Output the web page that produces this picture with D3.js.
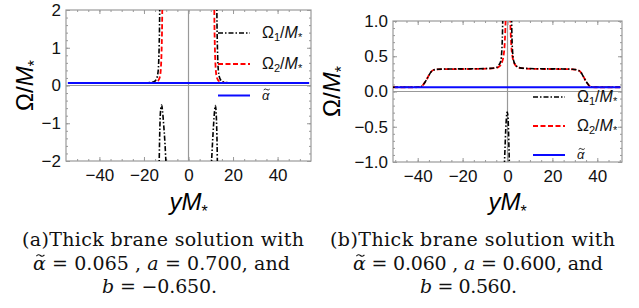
<!DOCTYPE html>
<html>
<head>
<meta charset="utf-8">
<script src="https://cdn.jsdelivr.net/npm/d3@7"></script>
<style>
  body { margin: 0; background: #fff; }
  svg { display: block; }
  .tick text { font-family: "Liberation Sans", Arial, sans-serif; font-size: 17px; fill: #111; }
</style>
</head>
<body>
<svg id="chart" width="639" height="308"></svg>
<script>
// ---- data, panel (a) ----
const alphaA = 0.065;
const omega1A_outerL = [[-54,0.065],[-30,0.066],[-20,0.07],[-17,0.08],[-15.5,0.1],[-14.5,0.16],[-13.8,0.3],[-13.4,0.6],[-13.15,1.1],[-13.0,1.6],[-12.9,2.2]];
const omega1A_outerR = [[12.7,2.2],[12.8,1.6],[12.95,1.1],[13.2,0.6],[13.6,0.3],[14.3,0.16],[15.3,0.1],[17,0.08],[20,0.07],[30,0.066],[54,0.065]];
const omega1A_negL = [[-13.2,-2.2],[-13.0,-1.5],[-12.75,-0.9],[-12.45,-0.62],[-12.05,-0.52],[-11.7,-0.65],[-11.2,-1.0],[-10.6,-1.5],[-10.0,-2.2]];
const omega1A_negR = [[10.2,-2.2],[10.8,-1.5],[11.3,-1.0],[11.7,-0.68],[12.05,-0.53],[12.4,-0.7],[12.65,-1.1],[12.85,-1.6],[13.0,-2.2]];
const omega2A_L = [[-54,0.065],[-30,0.066],[-20,0.068],[-16,0.075],[-14,0.11],[-13,0.2],[-12.5,0.38],[-12.2,0.7],[-12.0,1.1],[-11.85,1.6],[-11.75,2.2]];
const omega2A_R = [[11.55,2.2],[11.65,1.6],[11.8,1.1],[12.0,0.7],[12.3,0.38],[12.8,0.2],[13.8,0.11],[15.8,0.075],[20,0.068],[30,0.066],[54,0.065]];

// ---- data, panel (b) ----
const alphaB = 0.06;
const omega1B_L = [[-51,0.06],[-42,0.06],[-39,0.065],[-38,0.08],[-37,0.12],[-36,0.17],[-35,0.23],[-34,0.28],[-33,0.305],[-31,0.315],[-25,0.32],[-15,0.322],[-8,0.328],[-5,0.34],[-4,0.37],[-3,0.43],[-2.6,0.55],[-2.3,0.75],[-2.1,1.05]];
const omega1B_R = [[1.8,1.05],[2.0,0.75],[2.3,0.55],[2.8,0.43],[3.8,0.37],[5,0.34],[8,0.328],[15,0.322],[25,0.32],[29,0.315],[31,0.305],[32.5,0.28],[33.5,0.23],[34.5,0.17],[35.5,0.12],[36.5,0.08],[37.5,0.065],[40,0.06],[51,0.06]];
const omega1B_neg = [[-1.4,-1.05],[-1.1,-0.8],[-0.8,-0.55],[-0.5,-0.38],[-0.15,-0.29],[0.2,-0.35],[0.45,-0.55],[0.65,-0.8],[0.85,-1.05]];
const omega2B_L = [[-51,0.06],[-42,0.06],[-39,0.065],[-38,0.08],[-37,0.12],[-36,0.17],[-35,0.23],[-34,0.28],[-33,0.305],[-31,0.315],[-25,0.318],[-15,0.32],[-8,0.325],[-5,0.335],[-3.5,0.36],[-2.5,0.41],[-1.8,0.5],[-1.3,0.65],[-1.0,0.85],[-0.8,1.05]];
const omega2B_R = [[1.2,1.05],[1.4,0.85],[1.7,0.65],[2.2,0.5],[2.9,0.41],[3.9,0.36],[5.5,0.335],[8,0.325],[15,0.32],[25,0.318],[29,0.315],[31,0.305],[32.5,0.28],[33.5,0.23],[34.5,0.17],[35.5,0.12],[36.5,0.08],[37.5,0.065],[40,0.06],[51,0.06]];

// ---- ticks ----
const xTicks = [-40, -20, 0, 20, 40];
const xMinor = d3.range(-50, 51, 5);
const yTicksA = [-2, -1, 0, 1, 2];
const yMinorA = d3.range(-2, 2.01, 0.2);
const yTicksB = [-1, -0.5, 0, 0.5, 1];
const yMinorB = d3.range(-1, 1.01, 0.1);

// ---- captions (italic parts marked with *, alpha-tilde with ~) ----
const captionA = ["(a)Thick brane solution with", ["~α", " = 0.065 , ", "*a", " = 0.700, and"], ["*b", " = −0.650."]];
const captionB = ["(b)Thick brane solution with", ["~α", " = 0.060 , ", "*a", " = 0.600, and"], ["*b", " = 0.560."]];

const svg = d3.select("#chart");
const BLACK = "#000", RED = "#f00", BLUE = "#0a0aff";

// draw a tilde accent over the first character of a text element
function addTilde(textSel, w, lift, sw) {
  const r = textSel.node().getExtentOfChar(0);
  const base = +textSel.attr("y");
  const cx = r.x + r.width / 2 + 1, cy = base - lift;
  const h = w * 0.22;
  const pth = d3.path();
  pth.moveTo(cx - w / 2, cy + h * 0.3);
  pth.quadraticCurveTo(cx - w / 4, cy - h, cx, cy);
  pth.quadraticCurveTo(cx + w / 4, cy + h, cx + w / 2, cy - h * 0.3);
  svg.append("path").attr("d", pth.toString()).attr("fill", "none")
    .attr("stroke", "#111").attr("stroke-width", sw);
}

function drawPanel(p) {
  const x = d3.scaleLinear().domain(p.xDomain).range([p.left, p.right]);
  const y = d3.scaleLinear().domain(p.yDomain).range([p.bottom, p.top]);
  const g = svg.append("g");

  const clipId = "clip" + p.id;
  svg.append("clipPath").attr("id", clipId)
    .append("rect").attr("x", p.left).attr("y", p.top)
    .attr("width", p.right - p.left).attr("height", p.bottom - p.top);

  // axes lines at 0
  g.append("line").attr("x1", x(0)).attr("x2", x(0)).attr("y1", p.top).attr("y2", p.bottom)
    .attr("stroke", "#999").attr("stroke-width", 1.2);
  g.append("line").attr("x1", p.left).attr("x2", p.right).attr("y1", y(0)).attr("y2", y(0))
    .attr("stroke", "#999").attr("stroke-width", 1.2);

  // frame ticks (inward), minor then major
  const mk = [() => d3.axisBottom(x), () => d3.axisTop(x), () => d3.axisLeft(y), () => d3.axisRight(y)];
  const tr = [`translate(0,${p.bottom})`, `translate(0,${p.top})`, `translate(${p.left},0)`, `translate(${p.right},0)`];
  const major = [xTicks, xTicks, p.yTicks, p.yTicks];
  const minor = [xMinor, xMinor, p.yMinor, p.yMinor];
  const fmts = [d3.format("d"), null, p.yFormat, null];
  mk.forEach((make, i) => {
    g.append("g").attr("transform", tr[i])
      .call(make().tickValues(minor[i]).tickSize(-2).tickFormat(""))
      .call(s => s.select(".domain").remove())
      .call(s => s.selectAll("text").remove())
      .selectAll("line").attr("stroke", "#999");
    const ax = g.append("g").attr("transform", tr[i])
      .call(make().tickValues(major[i]).tickSize(-4).tickPadding(i === 0 ? 8 : 5).tickFormat(fmts[i] || ""))
      .call(s => s.select(".domain").remove());
    ax.selectAll("line").attr("stroke", "#999");
    if (!fmts[i]) ax.selectAll("text").remove();
  });

  g.append("rect").attr("x", p.left).attr("y", p.top)
    .attr("width", p.right - p.left).attr("height", p.bottom - p.top)
    .attr("fill", "none").attr("stroke", "#9a9a9a").attr("stroke-width", 1.2);

  const line = d3.line().x(d => x(d[0])).y(d => y(d[1])).curve(d3.curveMonotoneX);
  const plot = g.append("g").attr("clip-path", `url(#${clipId})`);

  p.omega2.forEach(seg => plot.append("path").datum(seg).attr("d", line)
    .attr("fill", "none").attr("stroke", RED).attr("stroke-width", 1.8)
    .attr("stroke-dasharray", "5,2.5"));
  p.omega1.forEach(seg => plot.append("path").datum(seg).attr("d", line)
    .attr("fill", "none").attr("stroke", BLACK).attr("stroke-width", 1.6)
    .attr("stroke-dasharray", "5,2,1.5,2"));
  const span = x.domain().map(v => v * 0.985);
  plot.append("path").datum(span.map(v => [v, p.alpha])).attr("d", line)
    .attr("fill", "none").attr("stroke", BLUE).attr("stroke-width", 2);

  // axis labels
  const xl = g.append("text").attr("x", x(0)).attr("y", p.xLabelY).attr("text-anchor", "middle")
    .attr("font-family", "Liberation Sans, Arial, sans-serif").attr("font-size", 24).attr("font-style", "italic");
  xl.append("tspan").text("yM");
  xl.append("tspan").text("*").attr("font-size", 16).attr("dy", 7).attr("font-style", "normal");

  const yl = g.append("text")
    .attr("transform", `translate(${p.yLabelX},${y(0)}) rotate(-90)`).attr("text-anchor", "middle")
    .attr("font-family", "Liberation Sans, Arial, sans-serif").attr("font-size", 24);
  yl.append("tspan").text("Ω/");
  yl.append("tspan").text("M").attr("font-style", "italic");
  yl.append("tspan").text("*").attr("font-size", 16).attr("dy", 7);

  // legend
  const leg = [
    { color: BLACK, dash: "5,2,1.5,2", w: 1.6, label: "1" },
    { color: RED, dash: "5,2.5", w: 1.8, label: "2" },
    { color: BLUE, dash: null, w: 2, label: null }
  ];
  leg.forEach((d, i) => {
    const ly = p.legendY[i];
    g.append("line").attr("x1", p.legendX).attr("x2", p.legendX + 32).attr("y1", ly).attr("y2", ly)
      .attr("stroke", d.color).attr("stroke-width", d.w).attr("stroke-dasharray", d.dash);
    const t = g.append("text").attr("x", p.legendX + 44).attr("y", ly + 5)
      .attr("font-family", "Liberation Sans, Arial, sans-serif").attr("font-size", 16).attr("fill", "#111");
    if (d.label) {
      t.append("tspan").text("Ω");
      t.append("tspan").text(d.label).attr("font-size", 11).attr("dy", 3);
      t.append("tspan").text("/").attr("dy", -3);
      t.append("tspan").text("M").attr("font-style", "italic");
      t.append("tspan").text("*").attr("font-size", 11).attr("dy", 3);
    } else {
      t.attr("font-size", 13).attr("font-style", "italic").attr("y", ly + 4).text("α");
      addTilde(t, 6, 10, 0.9);
    }
  });

  // caption
  const c = p.caption;
  const cap = svg.append("g").attr("font-family", "'DejaVu Serif', 'Liberation Serif', serif")
    .attr("font-size", 19).attr("text-anchor", "middle").attr("fill", "#111");
  const ys = [246, 269.5, 293];
  c.forEach((parts, k) => {
    const t = cap.append("text").attr("x", p.capX[k]).attr("y", ys[k])
      .attr("textLength", p.capW[k]).attr("lengthAdjust", "spacing");
    if (typeof parts === "string") { t.text(parts); return; }
    parts.forEach(s => {
      if (s[0] === "~" || s[0] === "*") t.append("tspan").text(s.slice(1)).attr("font-style", "italic");
      else t.append("tspan").text(s);
    });
    if (parts[0][0] === "~") addTilde(t, 8, 14, 1.1);
  });
}

drawPanel({
  id: "a", xDomain: [-55, 55], yDomain: [-2, 2],
  left: 66, right: 311, top: 10, bottom: 161,
  yTicks: yTicksA, yMinor: yMinorA, yFormat: d3.format("d"),
  omega1: [omega1A_outerL, omega1A_outerR, omega1A_negL, omega1A_negR],
  omega2: [omega2A_L, omega2A_R], alpha: alphaA,
  xLabelY: 210, yLabelX: 33,
  legendX: 218, legendY: [33, 64, 95.5],
  caption: captionA, capX: [163, 161.5, 159.5], capW: [282, 257, 115]
});

drawPanel({
  id: "b", xDomain: [-51, 51], yDomain: [-1, 1],
  left: 393, right: 622, top: 21, bottom: 162,
  yTicks: yTicksB, yMinor: yMinorB, yFormat: d3.format(".1f"),
  omega1: [omega1B_L, omega1B_R, omega1B_neg],
  omega2: [omega2B_L, omega2B_R], alpha: alphaB,
  xLabelY: 210, yLabelX: 340,
  legendX: 533, legendY: [97, 126, 155],
  caption: captionB, capX: [472.5, 478, 468.5], capW: [285, 250, 97]
});
</script>
</body>
</html>
